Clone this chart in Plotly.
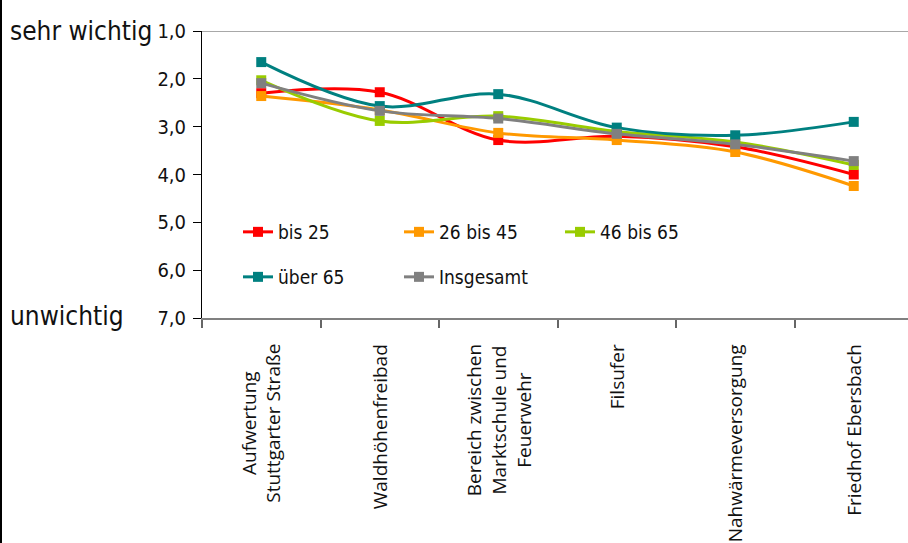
import plotly.graph_objects as go

# Categories (x axis) and their display labels
categories = ["Aufwertung Stuttgarter Straße", "Waldhöhenfreibad",
              "Bereich zwischen Marktschule und Feuerwehr", "Filsufer",
              "Nahwärmeversorgung", "Friedhof Ebersbach"]
category_labels = ["Aufwertung<br>Stuttgarter Straße", "Waldhöhenfreibad",
                   "Bereich zwischen<br>Marktschule und<br>Feuerwehr", "Filsufer",
                   "Nahwärmeversorgung", "Friedhof Ebersbach"]

# Mean importance ratings per age group (1 = sehr wichtig, 7 = unwichtig)
bis_25 = [2.30, 2.28, 3.28, 3.20, 3.42, 4.00]
von_26_bis_45 = [2.36, 2.65, 3.13, 3.28, 3.53, 4.24]
von_46_bis_65 = [2.03, 2.88, 2.78, 3.10, 3.32, 3.80]
ueber_65 = [1.65, 2.57, 2.32, 3.02, 3.18, 2.90]
insgesamt = [2.09, 2.67, 2.83, 3.15, 3.37, 3.72]

series_names = ["bis 25", "26 bis 45", "46 bis 65", "über 65", "Insgesamt"]
series_values = [bis_25, von_26_bis_45, von_46_bis_65, ueber_65, insgesamt]
series_colors = ["#FF0000", "#FF9900", "#99CC00", "#008080", "#808080"]
series_legend = ["legend", "legend", "legend", "legend2", "legend2"]

y_ticks = [1, 2, 3, 4, 5, 6, 7]

W, H = 908, 543
ML, MR, MT, MB = 202, 0, 31, 225
PW, PH = W - ML - MR, H - MT - MB

NARROW = "Liberation Sans Narrow, Arial Narrow, DejaVu Sans Condensed, sans-serif"

fig = go.Figure()
for name, vals, col, lg in zip(series_names, series_values, series_colors, series_legend):
    fig.add_trace(go.Scatter(
        x=categories, y=vals, name=name, mode="lines+markers",
        line=dict(color=col, width=3, shape="spline", smoothing=1.0),
        marker=dict(symbol="square", size=10, color=col),
        legend=lg,
    ))

# x labels: rotated, top-aligned blocks with centred lines
for cat, lab in zip(categories, category_labels):
    fig.add_annotation(x=cat, xref="x", y=0, yref="paper", yshift=-24,
                       text=lab, textangle=-90, showarrow=False,
                       xanchor="center", yanchor="top", align="center",
                       font=dict(family="Open Sans, sans-serif", size=19, color="#111111"))

# side captions for the rating scale
fig.add_annotation(x=(8 - ML) / PW, xref="paper", y=1, yref="paper",
                   text="sehr wichtig", showarrow=False, xanchor="left", yanchor="middle",
                   font=dict(family=NARROW, size=26, color="#111111"))
fig.add_annotation(x=(8 - ML) / PW, xref="paper", y=0, yref="paper", yshift=2,
                   text="unwichtig", showarrow=False, xanchor="left", yanchor="middle",
                   font=dict(family=NARROW, size=26, color="#111111"))

# top reference line at 1,0
fig.add_shape(type="line", xref="paper", yref="y", x0=0, x1=1, y0=1, y1=1,
              line=dict(color="#A8A8A8", width=2))
# frame edge on the left side
fig.add_shape(type="rect", xref="paper", yref="paper",
              x0=-ML / PW, x1=(2 - ML) / PW, y0=-MB / PH, y1=1 + MT / PH,
              fillcolor="#000000", line=dict(width=0))

fig.update_layout(
    width=W, height=H,
    margin=dict(l=ML, r=MR, t=MT, b=MB),
    paper_bgcolor="white", plot_bgcolor="white",
    separators=",.",
    font=dict(family=NARROW, color="#111111"),
    xaxis=dict(type="category", range=[-0.5, -0.5 + PW / 118.5],
               showticklabels=False, tickson="boundaries",
               ticks="outside", ticklen=8, tickcolor="#666666", tickwidth=1.5,
               showline=True, linecolor="#808080", linewidth=2,
               showgrid=False, zeroline=False),
    yaxis=dict(range=[7, 1], tickvals=y_ticks, tickformat=".1f",
               ticks="outside", ticklen=8, tickcolor="#000000",
               ticklabelstandoff=3,
               showline=True, linecolor="#000000", linewidth=1,
               showgrid=False, zeroline=False,
               tickfont=dict(family=NARROW, size=20, color="#111111")),
    legend=dict(orientation="h", x=(238 - ML) / PW, y=(318 - 232) / PH,
                xanchor="left", yanchor="middle", entrywidth=116,
                bgcolor="rgba(0,0,0,0)", font=dict(family=NARROW, size=19)),
    legend2=dict(orientation="h", x=(238 - ML) / PW, y=(318 - 277) / PH,
                 xanchor="left", yanchor="middle", entrywidth=116,
                 bgcolor="rgba(0,0,0,0)", font=dict(family=NARROW, size=19)),
    showlegend=True,
)

fig.write_html("out.html")
